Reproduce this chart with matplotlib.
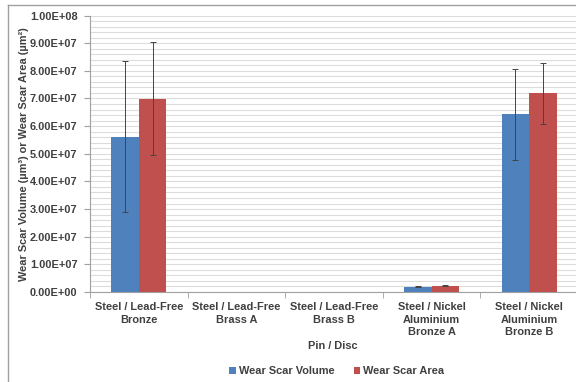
import numpy as np
import matplotlib.pyplot as plt
from matplotlib.lines import Line2D

plt.rcParams['font.family'] = ['Liberation Sans', 'DejaVu Sans']

# data
categories = ["Steel / Lead-Free\nBronze", "Steel / Lead-Free\nBrass A", "Steel / Lead-Free\nBrass B",
              "Steel / Nickel\nAluminium\nBronze A", "Steel / Nickel\nAluminium\nBronze B"]
volume = [5.62e7, 0, 0, 1.9e6, 6.43e7]
volume_err = [2.73e7, 0, 0, 1.5e5, 1.65e7]
area = [6.99e7, 0, 0, 2.3e6, 7.18e7]
area_err = [2.04e7, 0, 0, 1.5e5, 1.12e7]

blue = '#4f81bd'
red = '#c0504d'
txt = '#404040'
fs = 7.9

fig = plt.figure(figsize=(5.76, 3.82), dpi=100)
ax = fig.add_axes([90/576, 1 - 292/382, 488/576, (292 - 15.5)/382])

x = np.arange(len(categories))
w = 0.282
ax.bar(x - w/2, volume, w, color=blue, label='Wear Scar Volume', zorder=3)
ax.bar(x + w/2, area, w, color=red, label='Wear Scar Area', zorder=3)

# error bars only where there is a measured value
ek = dict(fmt='none', ecolor='#444444', elinewidth=0.7, capsize=2, capthick=0.7, zorder=4)
for offs, vals, errs in [(-w/2, volume, volume_err), (w/2, area, area_err)]:
    vals, errs = np.array(vals), np.array(errs)
    m = vals > 0
    ax.errorbar(x[m] + offs, vals[m], yerr=errs[m], **ek)

ax.set_xlim(-0.5, len(categories) - 0.5)
ax.set_ylim(0, 1e8)
ax.set_yticks(np.arange(0, 1.01e8, 1e7))
ax.set_yticklabels([f"{v:.2E}" for v in np.arange(0, 1.01e8, 1e7)])
ax.set_yticks(np.arange(0, 1.01e8, 2e6), minor=True)
ax.yaxis.grid(True, which='both', color='#dcdcdc', linewidth=0.8, zorder=0)
ax.set_axisbelow(True)

ax.set_xticks(x)
ax.set_xticklabels(categories, fontsize=fs, fontweight='bold', color=txt, linespacing=1.35)
ax.set_xticks(np.arange(-0.5, len(categories), 1), minor=True)
ax.tick_params(axis='x', which='major', length=0, pad=7)
ax.tick_params(axis='x', which='minor', length=4, color='#a0a0a0', direction='out')
ax.tick_params(axis='y', which='major', labelsize=fs, labelcolor=txt, length=4, color='#a0a0a0', pad=5)
ax.tick_params(axis='y', which='minor', length=0)
for lab in ax.get_yticklabels():
    lab.set_fontweight('bold')

for s in ['top', 'right']:
    ax.spines[s].set_visible(False)
ax.spines['left'].set_color('#a0a0a0')
ax.spines['bottom'].set_color('#a0a0a0')

ax.set_ylabel("Wear Scar Volume (µm³) or Wear Scar Area (µm²)", fontsize=fs,
              fontweight='bold', color=txt)
ax.yaxis.set_label_coords(-0.124, 0.5)
fig.text(333/576, 1 - 346/382, "Pin / Disc", ha='center', va='center',
         fontsize=fs, fontweight='bold', color=txt)

fig.legend(loc='center', bbox_to_anchor=(337/576, 1 - 371/382), ncol=2, frameon=False,
           handlelength=0.6, handleheight=0.6, handletextpad=0.3, columnspacing=1.7,
           prop={'size': fs, 'weight': 'bold'}, labelcolor=txt)

# outer chart border
fig.add_artist(Line2D([8/576, 1], [1 - 5/382, 1 - 5/382], color='#a0a0a0', linewidth=1))
fig.add_artist(Line2D([8/576, 8/576], [0, 1 - 5/382], color='#a0a0a0', linewidth=1))

fig.savefig('out.png', dpi=100)
